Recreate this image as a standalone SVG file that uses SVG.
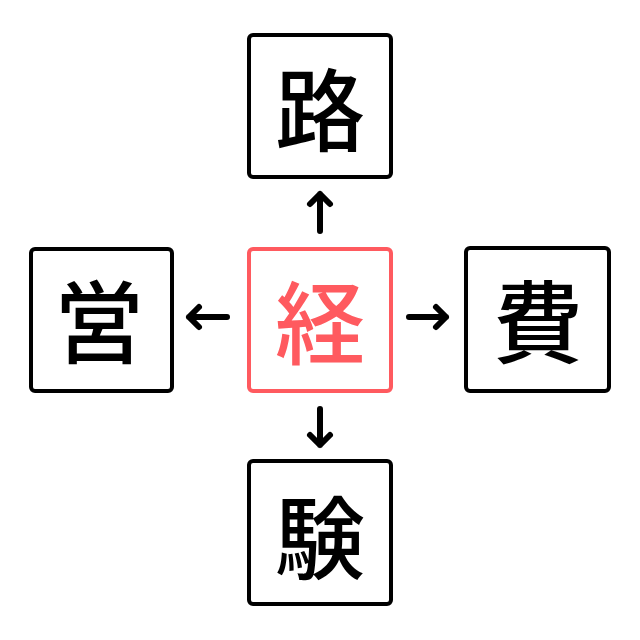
<svg xmlns="http://www.w3.org/2000/svg" width="640" height="640" viewBox="0 0 640 640">
<style>
.box{fill:#fff;stroke:#000;stroke-width:4}
.center{fill:#fff;stroke:#ff5a5f;stroke-width:4}
.t{font-family:"Noto Sans CJK JP","Noto Sans CJK SC",sans-serif;font-size:90px;font-weight:500;text-anchor:middle;dominant-baseline:central;fill:#000}
.tc{fill:#ff5a5f}
.arr{fill:none;stroke:#000;stroke-width:6;stroke-linecap:round;stroke-linejoin:round}
</style>
<rect width="640" height="640" fill="#fff"/>
<g id="connectors">
<path class="arr" d="M320 231 V194 M310 204 L320 194 L330 204"/>
<path class="arr" d="M320 409 V445 M310 435 L320 445 L330 435"/>
<path class="arr" d="M227 317 H189 M199 307 L189 317 L199 327"/>
<path class="arr" d="M409 317 H446 M436 307 L446 317 L436 327"/>
</g>
<g id="node-center">
<rect class="center" x="249" y="249" width="142" height="142" rx="4"/>
<text class="t tc" x="320" y="318">経</text>
</g>
<g id="node-top">
<rect class="box" x="249" y="35" width="142" height="142" rx="4"/>
<text class="t" x="320" y="105">路</text>
</g>
<g id="node-left">
<rect class="box" x="31" y="249" width="141" height="142" rx="4"/>
<text class="t" x="99" y="317">営</text>
</g>
<g id="node-right">
<rect class="box" x="466" y="248" width="143" height="143" rx="4"/>
<text class="t" x="538" y="317">費</text>
</g>
<g id="node-bottom">
<rect class="box" x="249" y="461" width="142" height="143" rx="4"/>
<text class="t" x="320" y="533">験</text>
</g>
</svg>
